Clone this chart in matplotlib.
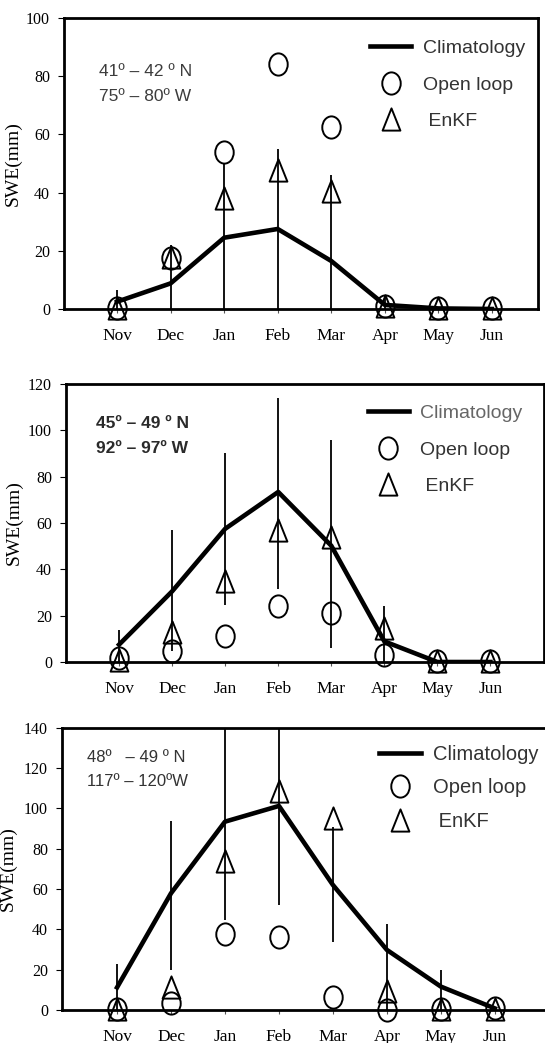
import numpy as np
import matplotlib
matplotlib.use("Agg")
import matplotlib.pyplot as plt
from matplotlib.path import Path
from matplotlib.transforms import Affine2D

plt.rcParams['font.family'] = 'Liberation Serif'

months = ['Nov', 'Dec', 'Jan', 'Feb', 'Mar', 'Apr', 'May', 'Jun']

# 41-42 N, 75-80 W
clim_a = [2.5, 8.8, 24.5, 27.5, 16.5, 1.4, 0.2, 0.0]
open_a = [0.5, 17.6, 53.8, 84.3, 62.6, 1.0, 0.3, 0.3]
enkf_a = [0.5, 18.0, 38.0, 47.7, 40.5, 1.0, 0.3, 0.3]
lo_a = [0, 0, 0, 0, 0, 0, 0, 0]
hi_a = [6.5, 22, 50, 55, 46, 4.8, 0, 0]

# 45-49 N, 92-97 W
clim_b = [7.5, 30.5, 57.5, 73.4, 50.2, 8.9, 0.0, 0.0]
open_b = [1.7, 4.6, 11.4, 24.3, 21.2, 3.2, 0.5, 0.5]
enkf_b = [1.0, 13.0, 35.0, 57.0, 54.0, 14.7, 0.3, 0.3]
lo_b = [0, 4.6, 24.7, 31.5, 6.0, 0, 0, 0]
hi_b = [14, 57, 90, 114, 96, 24, 0, 0]

# 48-49 N, 117-120 W
clim_c = [11.2, 57.9, 93.4, 101.2, 62.0, 29.8, 11.6, 0.8]
open_c = [0.5, 3.3, 37.5, 36.4, 6.6, 0.0, 0.5, 0.8]
enkf_c = [0.5, 11.6, 73.7, 108.4, 95.0, 9.6, 0.3, 0.5]
lo_c = [0, 19.8, 44.6, 52.0, 33.9, 0, 0, 0]
hi_c = [22.6, 93.7, 150, 150, 91, 42.6, 20, 0]

W, H = 545, 1043
fig = plt.figure(figsize=(W / 100, H / 100), dpi=100)

# slightly tall hollow markers
oval = Path.unit_circle().transformed(Affine2D().scale(0.83, 1.0))
tri = Path([(0, 1), (-0.8, -1), (0.8, -1), (0, 1)],
           [Path.MOVETO, Path.LINETO, Path.LINETO, Path.CLOSEPOLY])


def panel(box, xlim, ymax, clim, openl, enkf, lo, hi, region,
          leg_at, leg_space, leg_colors, leg_size=14):
    l, t, r, b = box
    ax = fig.add_axes([l / W, 1 - b / H, (r - l) / W, (b - t) / H])
    x = np.arange(len(months))

    ax.vlines(x, lo, hi, color='k', lw=1.3)
    ax.plot(x, clim, color='k', lw=3.3, label='Climatology')
    ax.plot(x, openl, ls='none', marker=oval, ms=16, mfc='none', mec='k',
            mew=1.4, clip_on=False, label='Open loop')
    ax.plot(x, enkf, ls='none', marker=tri, ms=16, mfc='none', mec='k',
            mew=1.4, clip_on=False, label=' EnKF')

    ax.set_xlim(*xlim)
    ax.set_ylim(0, ymax)
    ax.set_yticks(np.arange(0, ymax + 1, 20))
    ax.set_xticks(x, months)
    ax.tick_params(axis='y', length=4, width=0.8, pad=6, labelsize=11.5)
    ax.tick_params(axis='x', length=3, width=0.8, pad=11, labelsize=12.5,
                   color='#555555')
    for s in ax.spines.values():
        s.set_linewidth(2.0)

    ax.set_ylabel('SWE(mm)', fontsize=14)
    ax.yaxis.set_label_coords(-0.09, 0.5)

    (tx, ty1, ty2), lines, kw = region
    ax.text(tx, ty1, lines[0], transform=ax.transAxes, va='center',
            family='Liberation Sans', **kw)
    ax.text(tx, ty2, lines[1], transform=ax.transAxes, va='center',
            family='Liberation Sans', **kw)

    leg = ax.legend(loc='upper left', bbox_to_anchor=leg_at, frameon=False,
                    borderpad=0, borderaxespad=0, handlelength=2.1,
                    handletextpad=0.6, labelspacing=leg_space,
                    prop={'family': 'Liberation Sans', 'size': leg_size})
    for txt, c in zip(leg.get_texts(), leg_colors):
        txt.set_color(c)
    return ax


panel((64, 18, 538, 309), (-0.99, 7.86), 100,
      clim_a, open_a, enkf_a, lo_a, hi_a,
      ((0.074, 0.815, 0.73), ['41º – 42 º N', '75º – 80º W'],
       dict(fontsize=12.5, color='#3c3c3c')),
      (0.646, 0.926), 0.97, ['#333333', '#333333', '#333333'])

panel((66, 384, 543.5, 662), (-1.0, 8.0), 120,
      clim_b, open_b, enkf_b, lo_b, hi_b,
      ((0.062, 0.857, 0.767), ['45º – 49 º N', '92º – 97º W'],
       dict(fontsize=12.5, color='#2a2a2a', fontweight='bold')),
      (0.632, 0.927), 0.98, ['#666666', '#333333', '#333333'])

panel((62, 727.7, 565, 1010), (-1.02, 8.3), 140,
      clim_c, open_c, enkf_c, lo_c, hi_c,
      ((0.05, 0.893, 0.808), ['48º   – 49 º N', '117º – 120ºW'],
       dict(fontsize=12, color='#333333')),
      (0.63, 0.94), 0.72, ['#333333', '#333333', '#333333'], 14.5)

fig.savefig('out.png', dpi=100)
